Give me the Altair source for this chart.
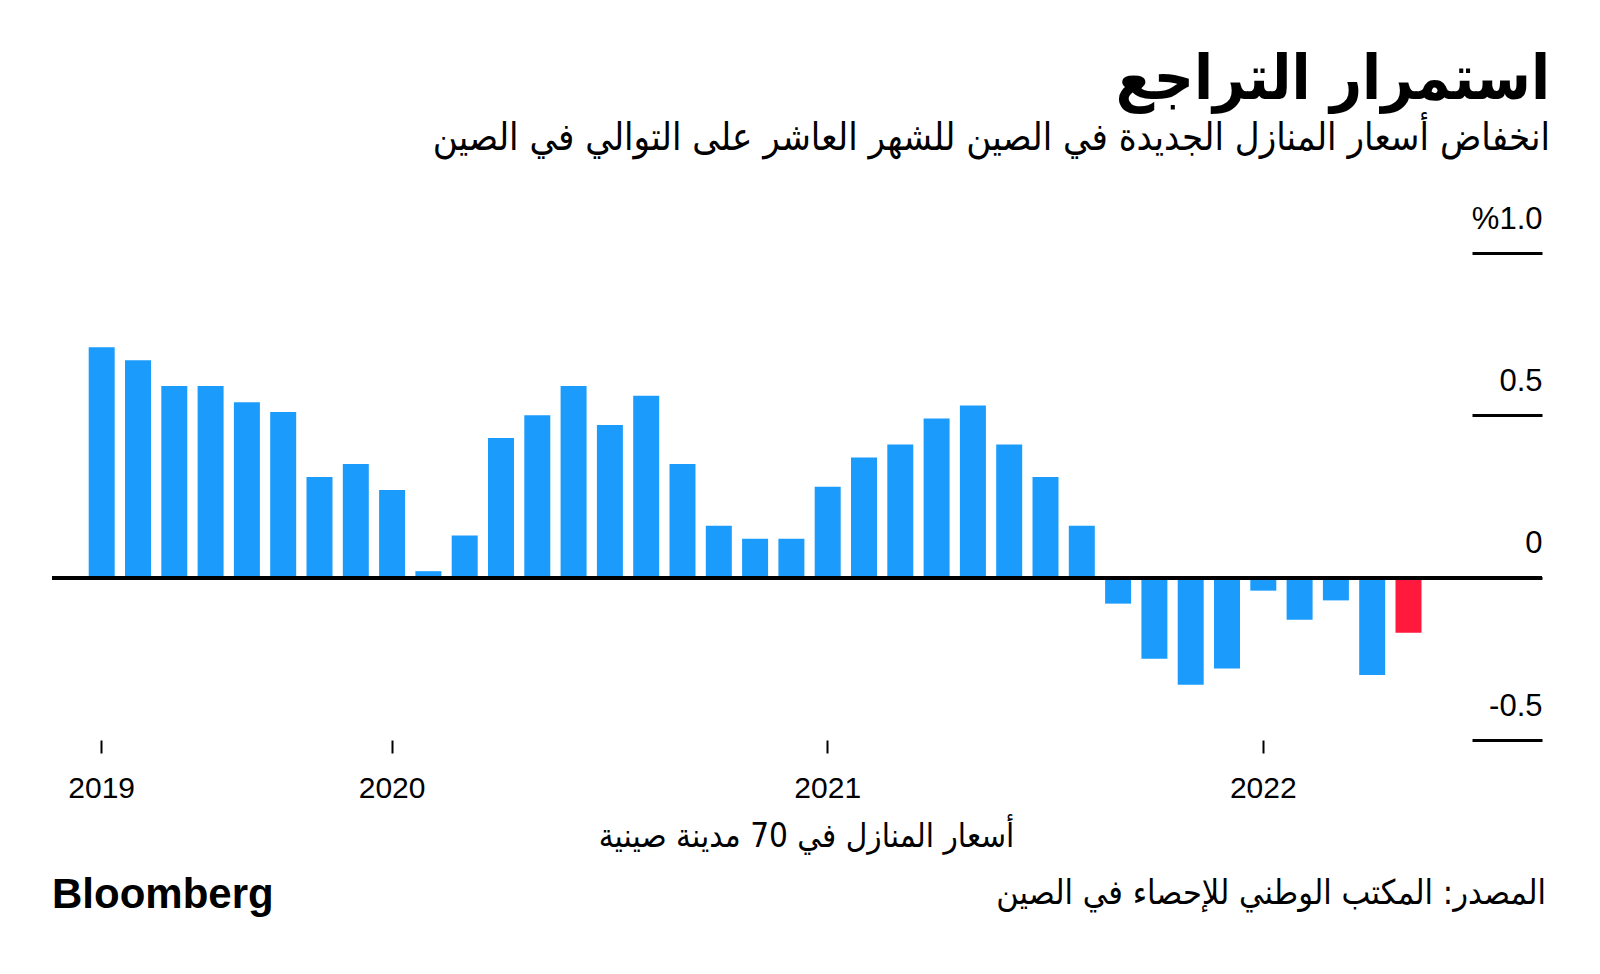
import altair as alt
import pandas as pd

# ---- data ----
months = [d.strftime("%Y-%m") for d in pd.date_range("2019-05-01", "2022-05-01", freq="MS")]
values = [0.71, 0.67, 0.59, 0.59, 0.54, 0.51, 0.31, 0.35, 0.27, 0.02,
          0.13, 0.43, 0.50, 0.59, 0.47, 0.56, 0.35, 0.16, 0.12, 0.12,
          0.28, 0.37, 0.41, 0.49, 0.53, 0.41, 0.31, 0.16, -0.08, -0.25,
          -0.33, -0.28, -0.04, -0.13, -0.07, -0.30, -0.17]
highlight = ["old"] * (len(values) - 1) + ["latest"]
tick_months = ["2019-05", "2020-01", "2021-01", "2022-01"]
y_ticks = [-0.5, 0, 0.5, 1.0]

title_text = "استمرار التراجع"
subtitle_text = "انخفاض أسعار المنازل الجديدة في الصين للشهر العاشر على التوالي في الصين"
x_title = "أسعار المنازل في 70 مدينة صينية"
source_text = "المصدر: المكتب الوطني للإحصاء في الصين"
brand_text = ["Bloomberg"]

df = pd.DataFrame({"month": months, "value": values, "hl": highlight})

AR_FONT = "DejaVu Sans Condensed, DejaVu Sans, sans-serif"
NUM_FONT = "Liberation Sans Narrow, Liberation Sans, Arial, sans-serif"

W, H = 1490, 487

x_enc = alt.X(
    "month:N",
    sort=months,
    scale=alt.Scale(paddingInner=0.284, paddingOuter=0, range=[36.7, 1369.5]),
    axis=alt.Axis(
        values=tick_months,
        labelExpr="substring(datum.value, 0, 4)",
        labelAngle=0,
        domain=False,
        ticks=True,
        tickSize=13,
        tickWidth=2,
        tickColor="#000000",
        labelFont=NUM_FONT,
        labelFontSize=30,
        labelColor="#000000",
        labelPadding=20,
        title=x_title,
        titleFont=AR_FONT,
        titleFontSize=33,
        titleFontWeight="normal",
        titleColor="#000000",
        titlePadding=17,
        titleX=754,
        titleAlign="center",
        grid=False,
    ),
)

y_enc = alt.Y(
    "value:Q",
    scale=alt.Scale(domain=[-0.5, 1.0], nice=False, zero=False),
    axis=alt.Axis(
        orient="right",
        values=y_ticks,
        offset=-70,
        tickSize=70,
        tickWidth=3,
        tickColor="#000000",
        domain=False,
        grid=False,
        labelAlign="right",
        labelBaseline="alphabetic",
        labelPadding=0,
        labelOffset=-25,
        labelFlush=False,
        labelFont=NUM_FONT,
        labelFontSize=31,
        labelColor="#000000",
        labelExpr="datum.value == 1 ? '%1.0' : (datum.value == 0 ? '0' : (datum.value < 0 ? '-' + format(-datum.value, '.1f') : format(datum.value, '.1f')))",
        title=None,
    ),
)

bars = alt.Chart(df).mark_bar().encode(
    x=x_enc,
    y=y_enc,
    color=alt.Color("hl:N", scale=alt.Scale(domain=["old", "latest"], range=["#1B9CFC", "#FF1A3D"]), legend=None),
)

zero = alt.Chart(df).mark_rule(color="#000000", size=3).encode(y=alt.datum(0))

source = alt.Chart(pd.DataFrame({"t": [source_text]})).mark_text(
    align="right", baseline="alphabetic", font=AR_FONT, fontSize=34, color="#000000"
).encode(x=alt.value(W + 4), y=alt.value(651), text="t:N")

brand = alt.Chart(pd.DataFrame({"t": brand_text})).mark_text(
    align="left", baseline="alphabetic", font="Liberation Sans, Arial, sans-serif",
    fontSize=42, fontWeight="bold", color="#000000"
).encode(x=alt.value(0), y=alt.value(655), text="t:N")

chart = alt.layer(bars, zero, source, brand).properties(
    width=W,
    height=H,
    background="#ffffff",
    title=alt.TitleParams(
        text=title_text,
        subtitle=subtitle_text,
        anchor="end",
        align="right",
        dx=4,
        font=AR_FONT,
        fontSize=62,
        fontWeight="bold",
        color="#000000",
        subtitleFont=AR_FONT,
        subtitleFontSize=38,
        subtitleColor="#000000",
        subtitlePadding=8,
        offset=44,
    ),
    autosize=alt.AutoSizeParams(type="none"),
    padding={"left": 44, "top": 245, "right": 40, "bottom": 198},
).configure_view(strokeWidth=0, strokeOpacity=0)

chart.save("out.html", embed_options={"renderer": "svg", "actions": False})
